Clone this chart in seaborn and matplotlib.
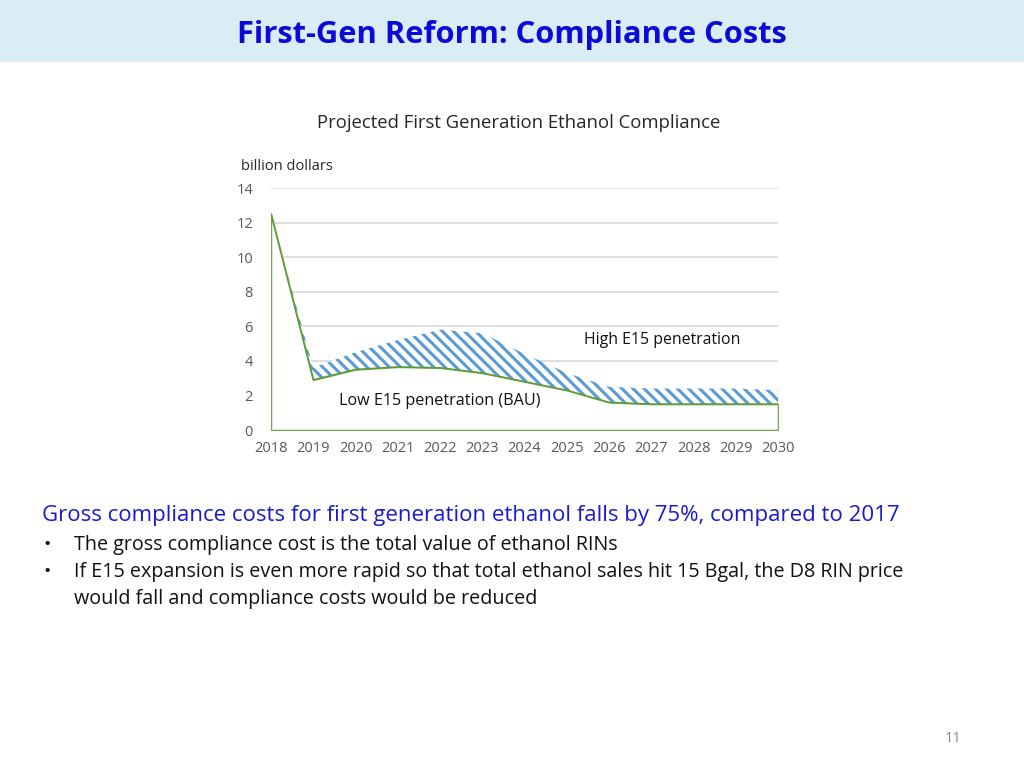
import numpy as np
import pandas as pd
import matplotlib
matplotlib.use("Agg")
import matplotlib.pyplot as plt
import seaborn as sns

# data (billion dollars)
years = [2018, 2019, 2020, 2021, 2022, 2023, 2024, 2025, 2026, 2027, 2028, 2029, 2030]
low_e15 = [12.5, 2.9, 3.5, 3.65, 3.6, 3.3, 2.8, 2.3, 1.6, 1.5, 1.5, 1.5, 1.5]
high_e15 = [12.5, 3.6, 4.5, 5.2, 5.8, 5.6, 4.4, 3.3, 2.5, 2.4, 2.4, 2.4, 2.3]
y_ticks = [0, 2, 4, 6, 8, 10, 12, 14]

df = pd.DataFrame({"year": years, "low": low_e15, "high": high_e15})

sns.set_style("white")
plt.rcParams['font.family'] = ['Open Sans', 'DejaVu Sans']
plt.rcParams['hatch.linewidth'] = 2.2

fig = plt.figure(figsize=(10.24, 7.68), dpi=100)

# slide header band
fig.patches.append(plt.Rectangle((0, 1 - 62 / 768), 1, 62 / 768, transform=fig.transFigure,
                                 facecolor="#DAEDF4", edgecolor="none", zorder=0))
fig.text(0.5, 1 - 35 / 768, "First-Gen Reform: Compliance Costs", ha="center", va="center",
         fontsize=22.2, fontweight="bold", color="#0B0BD9")

ax = fig.add_axes([271 / 1024, 1 - 430 / 768, 507 / 1024, 242 / 768])

# hatched band between BAU and high E15
ax.fill_between(df["year"], df["low"], df["high"], facecolor="white", edgecolor="#5B9BD5",
                hatch="\\\\\\", linewidth=0, zorder=2)
# BAU area: white fill with green outline
ax.fill_between(df["year"], 0, df["low"], facecolor="white", edgecolor="#70AD47",
                linewidth=1.1, zorder=3)
sns.lineplot(data=df, x="year", y="low", ax=ax, color="#5E9A3A", linewidth=1.1, zorder=4)

ax.set_xlim(2018, 2030)
ax.set_ylim(0, 14)
ax.set_xticks(years)
ax.set_yticks(y_ticks)
ax.set_xlabel("")
ax.set_ylabel("")
ax.grid(axis="y", color="#D9D9D9", linewidth=1.2)
ax.set_axisbelow(True)
for s in ax.spines.values():
    s.set_visible(False)
ax.tick_params(axis="both", length=0, labelsize=10.5, labelcolor="#595959", pad=8)
ax.tick_params(axis="y", pad=13)

fig.text(519 / 1024, 1 - 123 / 768, "Projected First Generation Ethanol Compliance",
         ha="center", va="center", fontsize=13.3, color="#262626")
fig.text(241 / 1024, 1 - 166 / 768, "billion dollars", ha="left", va="center",
         fontsize=10.5, color="#262626")
ax.text(2025.4, 5.2, "High E15 penetration", ha="left", va="center", fontsize=11.4, color="#111111")
ax.text(2019.6, 1.7, "Low E15 penetration (BAU)", ha="left", va="center", fontsize=11.6, color="#111111")

# slide body text
fig.text(42 / 1024, 1 - 516 / 768,
         "Gross compliance costs for first generation ethanol falls by 75%, compared to 2017",
         ha="left", va="center", fontsize=16, color="#1A1AD0")
bullets = [
    (545, "The gross compliance cost is the total value of ethanol RINs"),
    (572, "If E15 expansion is even more rapid so that total ethanol sales hit 15 Bgal, the D8 RIN price"),
]
for y, txt in bullets:
    fig.text(43 / 1024, 1 - y / 768, "\u2022", ha="left", va="center", fontsize=14, color="#111111")
    fig.text(74 / 1024, 1 - y / 768, txt, ha="left", va="center", fontsize=14.2, color="#111111")
fig.text(74 / 1024, 1 - 599 / 768, "would fall and compliance costs would be reduced",
         ha="left", va="center", fontsize=14.2, color="#111111")

fig.text(953 / 1024, 1 - 738 / 768, "11", ha="center", va="center", fontsize=10.5, color="#808080")

fig.savefig("out.png", dpi=100)
